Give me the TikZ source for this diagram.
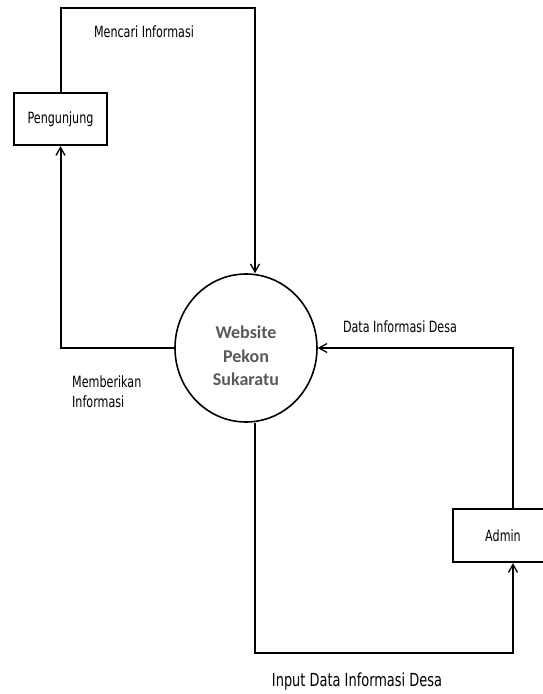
\documentclass[tikz,border=0pt]{standalone}
\usepackage{fontspec}
\setmainfont{DejaVu Sans}[FakeStretch=0.72]
\newfontfamily\circfont{Carlito}
\usetikzlibrary{arrows.meta,shapes.geometric}
\definecolor{circtext}{HTML}{595959}
\begin{document}
\begin{tikzpicture}[x=1pt,y=-1pt,
  ent/.style={draw,line width=2.2pt,inner sep=0pt,minimum width=93pt,minimum height=52pt,font=\fontsize{15.5}{18}\selectfont},
  flow/.style={line width=2pt,-{Straight Barb[length=8pt,width=9pt,line width=1.3pt]}},
  lbl/.style={font=\fontsize{15.5}{20}\selectfont,inner sep=0pt,align=left}]
\useasboundingbox (0,0) rectangle (542,694);
\fill[white] (0,0) rectangle (542,694);

\node[ent] (peng) at (60.5,119) {Pengunjung};
\node[ent,minimum width=100pt,minimum height=53pt] (admin) at (503,535.5) {Admin};
\node[draw,ellipse,line width=1.6pt,minimum width=142pt,minimum height=148pt,inner sep=0pt] (circ) at (246,348) {};
\node[font=\circfont\bfseries\fontsize{18}{23.5}\selectfont,text=circtext,align=center,inner sep=0pt] (ctext) at (246,356) {Website\\Pekon\\Sukaratu};

\coordinate (tr) at (255,8);
\coordinate (r) at (513,348);
\coordinate (bl) at (255,653);
\coordinate (br) at (513,653);

\draw[flow] (peng.north) |- (tr) -- (tr |- circ.north);
\draw[flow] (circ.west) -| (peng.south);
\draw[flow] (r |- admin.north) -- (r) -- (circ.east);
\draw[flow] (bl |- circ.south) -- (bl) -- (br) -- (br |- admin.south);

\node[lbl] (l1) at (144,31.5) {Mencari Informasi};
\node[lbl,anchor=west] (l2) at (72,392) {Memberikan\\Informasi};
\node[lbl] (l3) at (400,326.5) {Data Informasi Desa};
\node[lbl,font=\fontsize{18}{20}\selectfont,anchor=base] (l4) at (357,686) {Input Data Informasi Desa};
\end{tikzpicture}
\end{document}
